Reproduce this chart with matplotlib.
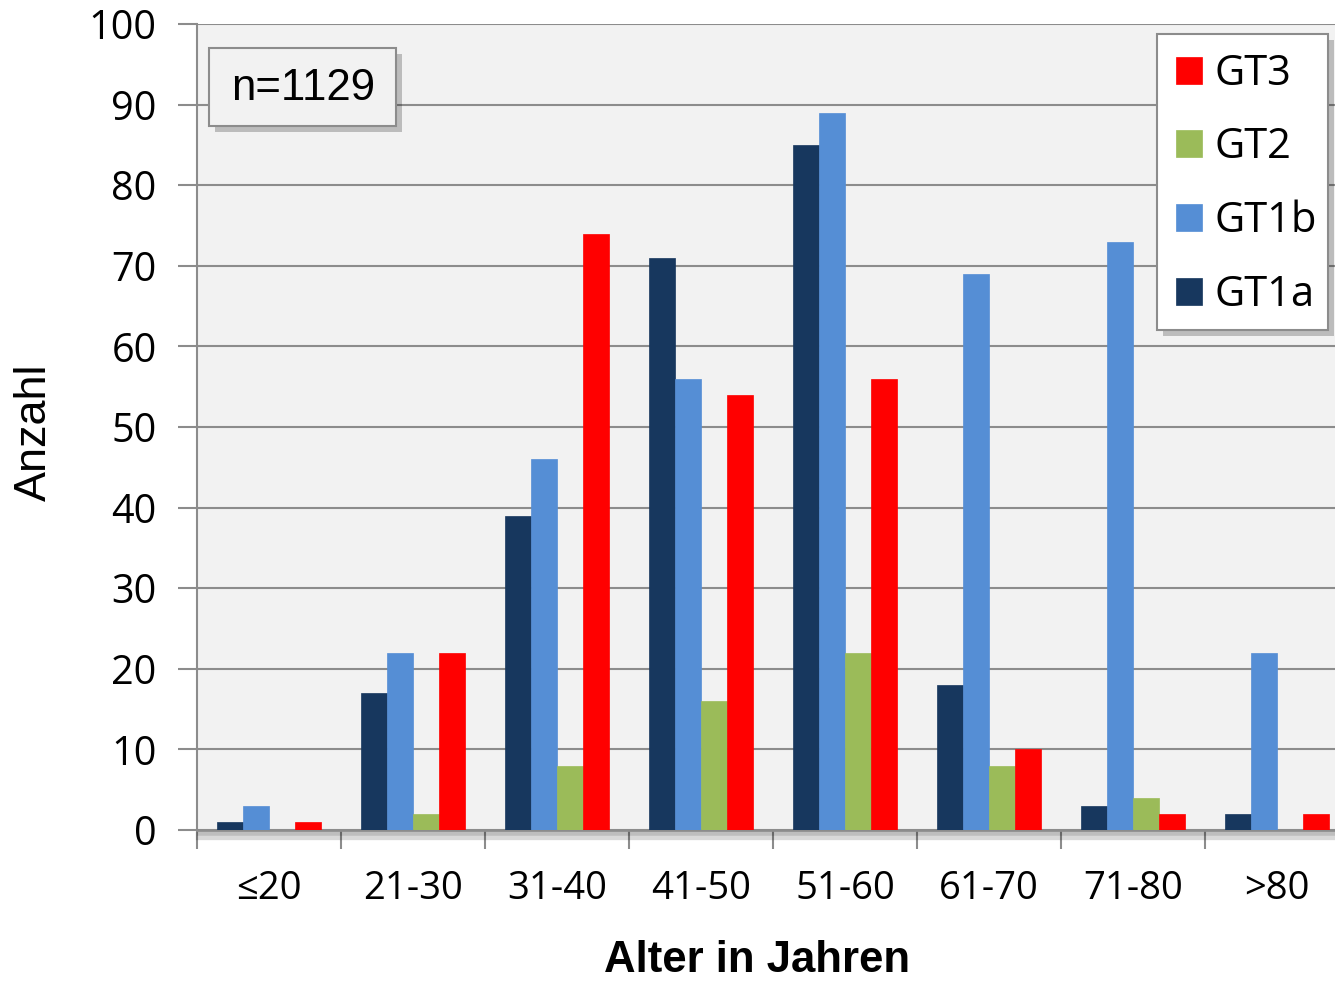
import matplotlib
matplotlib.use("Agg")
import matplotlib.pyplot as plt
import matplotlib.patheffects as pe
from matplotlib.patches import Rectangle
import numpy as np
from matplotlib import font_manager

categories = ["≤20", "21-30", "31-40", "41-50", "51-60", "61-70", "71-80", ">80"]
gt1a = [1, 17, 39, 71, 85, 18, 3, 2]
gt1b = [3, 22, 46, 56, 89, 69, 73, 22]
gt2 = [0, 2, 8, 16, 22, 8, 4, 0]
gt3 = [1, 22, 74, 54, 56, 10, 2, 2]
series_names = ["GT1a", "GT1b", "GT2", "GT3"]
y_ticks = list(range(0, 101, 10))

colors = ["#17375E", "#558ED5", "#9BBB59", "#FF0000"]

available = {f.name for f in font_manager.fontManager.ttflist}
narrow = "Liberation Sans Narrow" if "Liberation Sans Narrow" in available else "Liberation Sans"
scale = 1.0 if narrow == "Liberation Sans Narrow" else 0.83
body = ["Open Sans", "DejaVu Sans"]

W, H = 1335, 983
fig = plt.figure(figsize=(W / 100, H / 100), dpi=100)
fig.patch.set_facecolor("white")

# axes extends slightly beyond the right edge of the figure
left, right = 197 / W, 1349 / W
top, bottom = 1 - 24 / H, 1 - 830 / H
ax = fig.add_axes([left, bottom, right - left, top - bottom])
ax.set_facecolor("#F2F2F2")

x = np.arange(len(categories))
bw = 0.18
offsets = np.array([-1.5, -0.5, 0.5, 1.5]) * bw
handles = []
for vals, name, col, off in zip([gt1a, gt1b, gt2, gt3], series_names, colors, offsets):
    h = ax.bar(x + off, vals, width=bw, color=col, label=name, zorder=3,
               edgecolor=col, linewidth=0.5)
    handles.append(h)

ax.set_xlim(-0.5, len(categories) - 0.5)
ax.set_ylim(0, 100)
ax.set_yticks(y_ticks)
ax.set_yticklabels([str(v) for v in y_ticks], fontsize=28.5, family=body)
ax.yaxis.grid(True, color="#8C8C8C", linewidth=1.5, zorder=1)
ax.set_axisbelow(True)

ax.set_xticks(x)
ax.set_xticklabels(categories, fontsize=27.5, family=body)
ax.set_xticks(np.arange(-0.5, len(categories) + 0.5, 1.0), minor=True)
ax.tick_params(axis="x", which="major", length=0, pad=29)
ax.tick_params(axis="x", which="minor", length=14, width=1.5, color="#8C8C8C", direction="out")
ax.tick_params(axis="y", which="major", length=14, width=1.5, color="#8C8C8C", pad=15)

for s in ["top", "right"]:
    ax.spines[s].set_visible(False)
ax.spines["left"].set_color("#8C8C8C")
ax.spines["left"].set_linewidth(1.5)
ax.spines["bottom"].set_color("#8C8C8C")
ax.spines["bottom"].set_linewidth(2)
ax.spines["bottom"].set_path_effects([
    pe.SimpleLineShadow(offset=(2, -4), shadow_color="black", alpha=0.15, linewidth=6),
    pe.SimpleLineShadow(offset=(2, -2), shadow_color="black", alpha=0.12, linewidth=4),
    pe.Normal()])

# axis titles
fig.text(34 / W, 1 - 432 / H, "Anzahl", rotation=90, ha="center", va="center",
         fontsize=39 * scale, family=narrow)
fig.text(757 / W, 1 - 960 / H, "Alter in Jahren", ha="center", va="center",
         fontsize=38 * scale, fontweight="bold", family=narrow)

shadow_pe = [pe.SimplePatchShadow(offset=(4, -4), shadow_rgbFace="black", alpha=0.22),
             pe.Normal()]

# sample size box
nrect = Rectangle((209 / W, 1 - 126 / H), (396 - 209) / W, (126 - 48) / H,
                  transform=fig.transFigure, facecolor="#F2F2F2",
                  edgecolor="#8C8C8C", linewidth=1.5, zorder=5)
nrect.set_path_effects(shadow_pe)
fig.patches.append(nrect)
fig.text(303 / W, 1 - 88 / H, "n=1129", ha="center", va="center",
         fontsize=38 * scale, family=narrow, zorder=6)

# legend frame drawn as its own panel so it fits inside the figure
lrect = Rectangle((1157 / W, 1 - 330 / H), (1328 - 1157) / W, (330 - 34) / H,
                  transform=fig.transFigure, facecolor="white",
                  edgecolor="#8C8C8C", linewidth=1.5, zorder=8)
lrect.set_path_effects(shadow_pe)
fig.patches.append(lrect)

# legend entries in reversed series order
leg = fig.legend(handles[::-1], series_names[::-1], loc="upper left",
                 bbox_to_anchor=(1157 / W, 1 - 34 / H), bbox_transform=fig.transFigure,
                 prop={"family": body, "size": 30}, frameon=False,
                 handlelength=0.62, handleheight=0.62, handletextpad=0.31,
                 labelspacing=0.76, borderpad=0.45, borderaxespad=0)
leg.set_zorder(10)

fig.savefig("out.png", dpi=100, facecolor="white")
